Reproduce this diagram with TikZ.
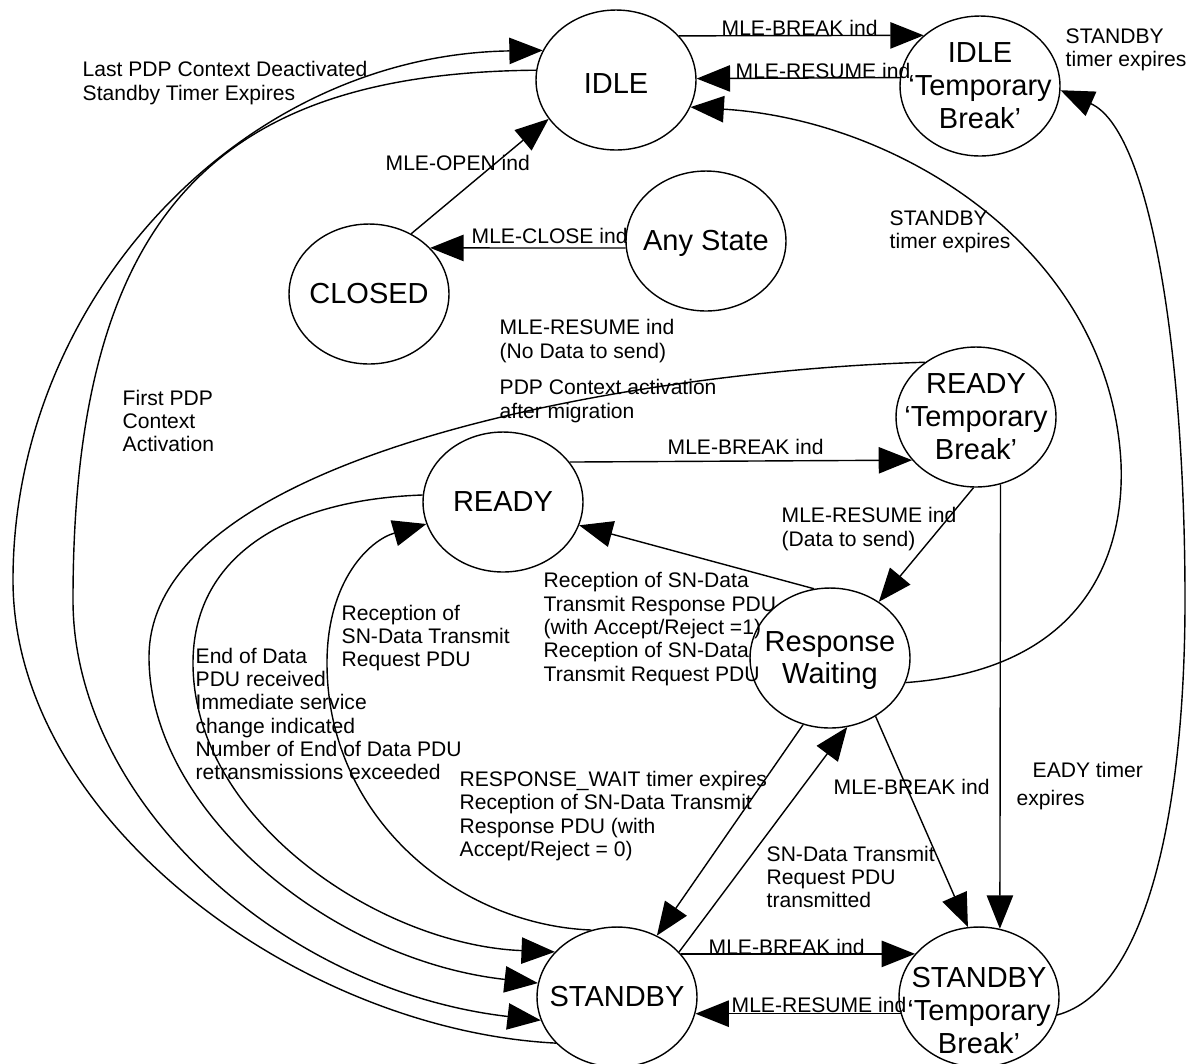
\documentclass[tikz,border=0pt]{standalone}
\usepackage{fontspec}
\setmainfont{Liberation Sans}
\usetikzlibrary{arrows.meta,shapes.geometric}
\newcommand{\stname}[2][-6pt]{\smash{\makebox[0pt]{\raisebox{#1}{\begin{tabular}{@{}c@{}}#2\end{tabular}}}}}

\begin{document}
\begin{tikzpicture}[x=0.02cm, y=-0.02cm, line width=0.8pt,
  state/.style={draw, ellipse, minimum width=3.2cm, minimum height=2.8cm, inner sep=0pt, font=\fontsize{16.5}{18.7}\selectfont},
  lbl/.style={anchor=west, inner sep=0pt, align=left, font=\fontsize{12}{13.3}\selectfont},
  tr/.style={-{Triangle[length=19pt,width=15pt]}}]

\useasboundingbox (0,0) rectangle (1186,1063);

% states
\node[state] (IDLE) at (616,80) {\stname[-8pt]{IDLE}};
\node[state] (IDLET) at (980,86) {\stname{IDLE\\‘Temporary\\Break’}};
\node[state] (ANY) at (706,241) {\stname{Any State}};
\node[state] (CLOSED) at (369,294) {\stname{CLOSED}};
\node[state] (READYT) at (976,417) {\stname{READY\\‘Temporary\\Break’}};
\node[state] (READY) at (503,502) {\stname{READY}};
\node[state] (RW) at (830,658) {\stname{Response\\Waiting}};
\node[state] (STANDBY) at (617,997) {\stname{STANDBY}};
\node[state] (STANDBYT) at (979,997) {\stname[-14pt]{STANDBY\\‘Temporary\\Break’}};

% IDLE and its break
\draw[tr] (IDLE.35) -- (IDLET.138);
\node[lbl] (lIdleBrk) at (721,28) {MLE-BREAK ind};
\draw[tr] (IDLET.174) -- (IDLE.1);
\node[lbl] (lIdleRes) at (735,71) {MLE-RESUME ind};
\draw[tr] (STANDBYT.-13) .. controls (1150,990) and (1185,800) .. (1185,600)
  .. controls (1185,350) and (1150,130) .. (IDLET.-3);
\node[lbl] (lIdleTmr) at (1065,50) {STANDBY\\timer expires};

% CLOSED / Any State
\draw[tr] (CLOSED.55) -- (IDLE.-150);
\node[lbl] (lOpen) at (385,163) {MLE-OPEN ind};
\draw[tr] (ANY.185) -- (CLOSED.37);
\node[lbl] (lClose) at (471,236) {MLE-CLOSE ind};

% IDLE <-> STANDBY
\draw[tr] (STANDBY.217) .. controls (300,1030) and (13,820) .. (13,580)
  .. controls (13,300) and (240,55) .. (IDLE.158);
\node[lbl] (lLast) at (82,83) {Last PDP Context Deactivated\\Standby Timer Expires};
\draw[tr] (IDLE.173) .. controls (225,73) and (73,205) .. (73,600)
  .. controls (73,800) and (280,990) .. (STANDBY.197);
\node[lbl] (lFirst) at (122,421) {First PDP\\Context\\Activation};

% READY 'Temporary Break'
\draw[tr] (READYT.133) .. controls (650,370) and (149,450) .. (149,657)
  .. controls (149,810) and (330,960) .. (STANDBY.170);
\node[lbl] (lNoData) at (499,341) {MLE-RESUME ind\\(No Data to send)};
\node[lbl] (lMigr) at (499,401) {PDP Context activation\\after migration};
\draw[tr] (READY.31) -- (READYT.214);
\node[lbl] (lRdyBrk) at (667,447) {MLE-BREAK ind};
\draw[tr] (READYT.-92) -- (RW.49);
\node[lbl] (lData) at (781,529) {MLE-RESUME ind\\(Data to send)};
\draw[tr] (READYT.-70) -- (STANDBYT.73);
\node[lbl] (lEady) at (1032,770) {EADY timer};
\node[lbl] (lExp) at (1016,800) {expires};

% READY <-> STANDBY
\draw[tr] (READY.175) .. controls (280,500) and (193,560) .. (193,663)
  .. controls (193,820) and (380,945) .. (STANDBY.144);
\node[lbl] (lEnd) at (195,714) {End of Data\\PDU received\\Immediate service\\change indicated\\Number of End of Data PDU\\retransmissions exceeded};
\draw[tr] (STANDBY.111) .. controls (460,925) and (327,820) .. (327,663)
  .. controls (327,580) and (370,540) .. (READY.196);
\node[lbl] (lReq) at (341,638) {Reception of\\SN-Data Transmit\\Request PDU};

% Response Waiting
\draw[tr] (RW.103) -- (READY.-17);
\node[lbl] (lAcc) at (543,629) {Reception of SN-Data\\Transmit Response PDU\\(with Accept/Reject =1)\\Reception of SN-Data\\Transmit Request PDU};
\draw[tr] (RW.-18) .. controls (1080,670) and (1125,560) .. (1121,463)
  .. controls (1110,250) and (900,120) .. (IDLE.-20);
\node[lbl] (lSbyTmr) at (889,232) {STANDBY\\timer expires};
\draw[tr] (RW.-52) -- (STANDBYT.99);
\node[lbl] (lRwBrk) at (833,787) {MLE-BREAK ind};
\draw[tr] (RW.-112) -- (STANDBY.57);
\node[lbl] (lWait) at (459,816) {RESPONSE\_WAIT timer expires\\Reception of SN-Data Transmit\\Response PDU (with\\Accept/Reject = 0)};
\draw[tr] (STANDBY.36) -- (RW.-76);
\node[lbl] (lSent) at (766,877) {SN-Data Transmit\\Request PDU\\transmitted};

% STANDBY and its break
\draw[tr] (STANDBY.34) -- (STANDBYT.146);
\node[lbl] (lSbyBrk) at (708,947) {MLE-BREAK ind};
\draw[tr] (STANDBYT.192) -- (STANDBY.-12);
\node[lbl] (lSbyRes) at (731,1005) {MLE-RESUME ind};

\end{tikzpicture}
\end{document}
